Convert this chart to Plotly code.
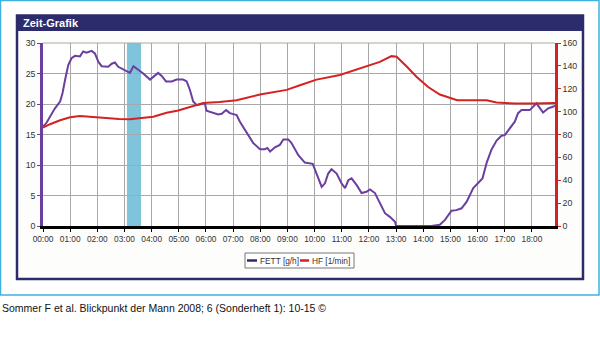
import plotly.graph_objects as go

# ---- data ----
hour_labels = ["00:00", "01:00", "02:00", "03:00", "04:00", "05:00", "06:00", "07:00", "08:00", "09:00",
               "10:00", "11:00", "12:00", "13:00", "14:00", "15:00", "16:00", "17:00", "18:00"]
hour_ticks = list(range(19))
left_ticks = [0, 5, 10, 15, 20, 25, 30]
right_ticks = [0, 20, 40, 60, 80, 100, 120, 140, 160]

fett_h = [0, 0.07, 0.14, 0.26, 0.44, 0.63, 0.72, 0.81, 0.93, 1.05, 1.18, 1.36, 1.48, 1.6, 1.79, 1.91,
          2.04, 2.16, 2.4, 2.53, 2.65, 2.77, 2.96, 3.14, 3.2, 3.33, 3.51, 3.69, 3.94, 4.06, 4.24, 4.37,
          4.53, 4.74, 4.92, 5.16, 5.29, 5.41, 5.53, 5.66, 5.84, 5.96, 6.02, 6.2, 6.45, 6.58, 6.74, 6.88,
          7.13, 7.25, 7.5, 7.74, 7.99, 8.17, 8.26, 8.36, 8.54, 8.72, 8.85, 9.03, 9.15, 9.4, 9.64, 9.83,
          9.93, 10.07, 10.26, 10.38, 10.5, 10.62, 10.81, 10.99, 11.12, 11.24, 11.36, 11.55, 11.73, 11.91,
          12.04, 12.22, 12.4, 12.59, 12.77, 12.96, 13.0, 14.3, 14.61, 14.8, 15.04, 15.22, 15.41, 15.6,
          15.84, 16.02, 16.18, 16.33, 16.51, 16.7, 16.88, 17.0, 17.19, 17.37, 17.49, 17.62, 17.92, 18.17,
          18.41, 18.6, 18.79, 18.85]
fett_v = [16.4, 16.6, 17.0, 17.9, 19.3, 20.4, 21.8, 23.9, 26.4, 27.5, 27.9, 27.8, 28.6, 28.4, 28.7, 28.3,
          26.9, 26.2, 26.1, 26.6, 26.8, 26.1, 25.7, 25.3, 25.1, 26.2, 25.6, 25.0, 24.0, 24.5, 25.1, 24.6,
          23.7, 23.7, 24.0, 24.0, 23.7, 22.3, 20.4, 19.8, 20.0, 20.1, 18.9, 18.6, 18.3, 18.4, 19.0, 18.5,
          18.2, 17.1, 15.2, 13.6, 12.6, 12.6, 12.8, 12.2, 12.9, 13.3, 14.2, 14.2, 13.6, 11.6, 10.4, 10.2,
          10.2, 8.6, 6.4, 7.0, 8.6, 9.3, 8.6, 7.0, 6.2, 7.5, 7.8, 6.7, 5.4, 5.6, 6.0, 5.4,
          3.7, 2.1, 1.5, 0.7, 0.0, 0.0, 0.2, 1.0, 2.5, 2.6, 2.9, 4.0,
          6.2, 7.0, 7.8, 10.3, 12.5, 14.0, 14.8, 14.9, 16.0, 17.1, 18.5, 19.0, 19.0, 20.1,
          18.6, 19.3, 19.6, 19.7]

hf_h = [0, 0.26, 0.63, 1.0, 1.36, 1.73, 2.34, 2.8, 3.2, 3.57, 4.06, 4.55, 4.98, 5.41, 5.9, 6.5, 7.13,
        7.99, 8.97, 9.46, 10.07, 10.93, 11.67, 12.4, 12.83, 13.02, 13.39, 13.75, 14.18, 14.61, 15.25,
        16.33, 16.7, 17.43, 18.04, 18.85]
hf_v = [86, 89, 92.5, 95, 96.2, 95.5, 94, 93.5, 93.3, 94.5, 95.6, 99, 101, 104, 107.5, 108.5, 110,
        115, 119, 123, 128, 132, 137.5, 143.5, 148.5, 148, 139.5, 130.5, 121.5, 115, 110,
        110, 108, 107, 107, 107.5]

band_start, band_end = 3.09, 3.61
series_names = ["FETT [g/h]", "HF [1/min]"]

# ---- styles ----
PURPLE = "#6a3fa0"
RED = "#d42222"
NAVY = "#2c2b6b"
LBLUE = "#3fb0e0"
BAND = "#80c4dc"
GRID = "#a8a8a8"
FONT = "Liberation Sans"
TICK_SIZE = 8.3

# plot area in pixels
PL, PR, PT, PB = 43, 555, 43, 226
W, H = 600, 357


def px(x):
    return (x - PL) / (PR - PL)


def py(y):
    return (PB - y) / (PB - PT)


fig = go.Figure()
fig.add_trace(go.Scatter(x=hf_h, y=hf_v, yaxis="y2", mode="lines",
                         line=dict(color=RED, width=2), name=series_names[1], showlegend=False))
fig.add_trace(go.Scatter(x=fett_h, y=fett_v, mode="lines",
                         line=dict(color=PURPLE, width=2), name=series_names[0], showlegend=False))

shapes = []
# outer light blue frame
shapes.append(dict(type="rect", xref="paper", yref="paper", x0=px(0.5), x1=px(599), y0=py(0.5), y1=py(295),
                   line=dict(color=LBLUE, width=1.5), fillcolor="rgba(0,0,0,0)", layer="below"))
# navy frame
shapes.append(dict(type="rect", xref="paper", yref="paper", x0=px(17), x1=px(583), y0=py(15.5), y1=py(279),
                   line=dict(color=NAVY, width=2.5), fillcolor="#fdfdfb", layer="below"))
# title bar
shapes.append(dict(type="rect", xref="paper", yref="paper", x0=px(17), x1=px(583), y0=py(15.5), y1=py(31),
                   line=dict(width=0), fillcolor=NAVY, layer="below"))
# plot bg
shapes.append(dict(type="rect", xref="paper", yref="paper", x0=0, x1=1, y0=0, y1=1,
                   line=dict(width=0), fillcolor="white", layer="below"))
# band
shapes.append(dict(type="rect", xref="x", yref="paper", x0=band_start, x1=band_end, y0=0, y1=1,
                   line=dict(width=0), fillcolor=BAND, layer="below"))
# top border gridline
shapes.append(dict(type="line", xref="paper", yref="paper", x0=0, x1=1, y0=1, y1=1,
                   line=dict(color=GRID, width=1), layer="below"))

# manual legend
lx0, lx1, ly0, ly1 = 245, 354, 253, 268
shapes.append(dict(type="rect", xref="paper", yref="paper", x0=px(lx0), x1=px(lx1), y0=py(ly0), y1=py(ly1),
                   line=dict(color="#777777", width=1), fillcolor="white"))
shapes.append(dict(type="line", xref="paper", yref="paper", x0=px(247), x1=px(257), y0=py(260.5), y1=py(260.5),
                   line=dict(color=NAVY, width=2.5)))
shapes.append(dict(type="line", xref="paper", yref="paper", x0=px(300), x1=px(309), y0=py(260.5), y1=py(260.5),
                   line=dict(color=RED, width=2.5)))

annotations = [
    dict(text="<b>Zeit-Grafik</b>", xref="paper", yref="paper", x=px(21), y=py(23), xanchor="left",
         yanchor="middle", showarrow=False, font=dict(color="white", size=11, family=FONT)),
    dict(text=series_names[0], xref="paper", yref="paper", x=px(257.5), y=py(260.5), xanchor="left",
         yanchor="middle", showarrow=False, font=dict(color="#333333", size=8.3, family=FONT)),
    dict(text=series_names[1], xref="paper", yref="paper", x=px(309.5), y=py(260.5), xanchor="left",
         yanchor="middle", showarrow=False, font=dict(color="#333333", size=8.3, family=FONT)),
    dict(text="Sommer F et al. Blickpunkt der Mann 2008; 6 (Sonderheft 1): 10-15 ©", xref="paper", yref="paper",
         x=px(0), y=py(307.5), xanchor="left", yanchor="middle", showarrow=False,
         font=dict(color="#111111", size=10.5, family=FONT)),
]

fig.update_layout(
    width=W, height=H,
    margin=dict(l=PL, r=W - PR, t=PT, b=H - PB, pad=0),
    paper_bgcolor="white", plot_bgcolor="rgba(0,0,0,0)",
    showlegend=False,
    font=dict(family=FONT, size=TICK_SIZE, color="#333333"),
    xaxis=dict(range=[0, 18.85], tickvals=hour_ticks, ticktext=hour_labels, showgrid=True,
               gridcolor=GRID, gridwidth=1, showline=True, linecolor="black", linewidth=3,
               ticks="outside", ticklen=3, tickcolor="black", zeroline=False,
               tickfont=dict(size=TICK_SIZE, color="#333333", family=FONT)),
    yaxis=dict(range=[0, 30], tickvals=left_ticks, showgrid=True, gridcolor=GRID, gridwidth=1,
               showline=True, linecolor=PURPLE, linewidth=2.5, ticks="outside", ticklen=3,
               tickcolor="#555555", zeroline=False, tickfont=dict(size=TICK_SIZE + 0.5, color="#333333", family=FONT)),
    yaxis2=dict(range=[0, 160], tickvals=right_ticks, overlaying="y", side="right", showgrid=False,
                showline=True, linecolor=RED, linewidth=2.5, ticks="outside", ticklen=3, tickcolor=RED,
                zeroline=False, tickfont=dict(size=TICK_SIZE + 0.5, color="#333333", family=FONT)),
    shapes=shapes, annotations=annotations,
)

fig.write_html("out.html", config={"displayModeBar": False},
               post_script="document.body.style.margin='0';document.body.style.overflow='hidden';")
